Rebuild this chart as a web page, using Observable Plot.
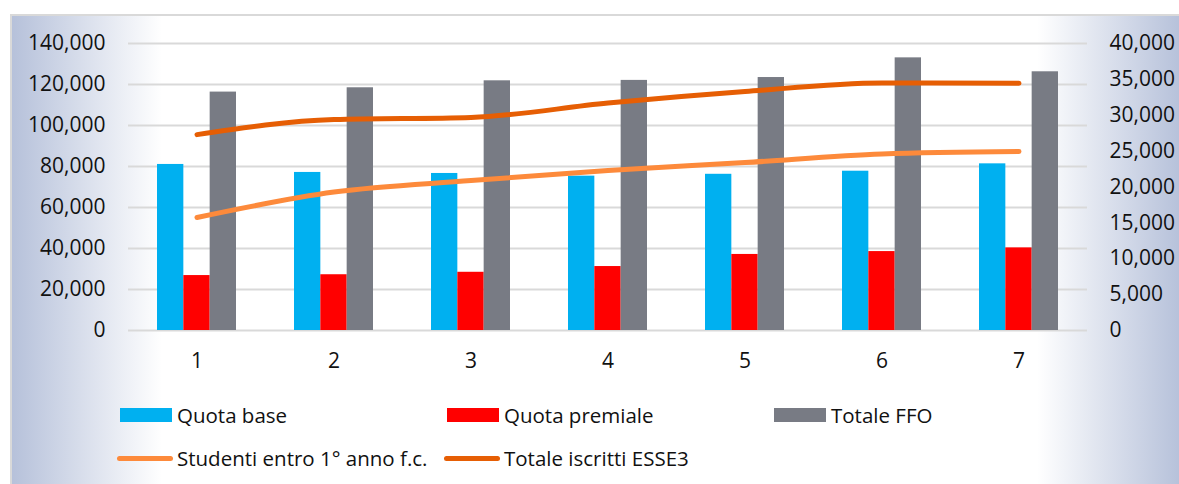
<!DOCTYPE html>
<html>
<head>
<meta charset="utf-8">
<script src="https://cdn.jsdelivr.net/npm/d3@7"></script>
<script src="https://cdn.jsdelivr.net/npm/@observablehq/plot@0.6"></script>
<style>
  html, body { margin: 0; padding: 0; background: #fff; }
  body { width: 1179px; height: 484px; position: relative; overflow: hidden; font-family: "Open Sans", sans-serif; }
  #frame {
    position: absolute; left: 10px; top: 14px; width: 1169px; height: 480px;
    box-sizing: border-box; border-left: 2px solid #d9d9d9; border-top: 2px solid #d9d9d9;
    background: linear-gradient(90deg, #b6c1da 0px, #ffffff 150px, #ffffff 1025px, #b6c1da 1169px);
  }
  #chart { position: absolute; left: 0; top: 0; }
  #legend { position: absolute; left: 120px; top: 400px; font-size: 20.5px; color: #111; }
  .row { display: flex; height: 30px; align-items: center; }
  .row + .row { margin-top: 13px; }
  .item { display: flex; align-items: center; width: 327px; }
  .sw { width: 52px; height: 14px; margin-right: 5px; flex: none; }
  .ln { width: 56px; height: 5px; border-radius: 3px; margin-left: -3px; margin-right: 4px; flex: none; }
</style>
</head>
<body>
<div id="frame"></div>
<div id="chart"></div>
<div id="legend"></div>
<script>
// ---- data ----
const years = [1, 2, 3, 4, 5, 6, 7];
const quotaBase = [81000, 77100, 76600, 75300, 76200, 77700, 81300];
const quotaPremiale = [26800, 27200, 28400, 31200, 37100, 38500, 40300];
const totaleFFO = [116300, 118400, 121800, 122000, 123400, 133000, 126200];
const studenti = [15750, 19300, 20900, 22300, 23400, 24600, 24950];
const totaleIscritti = [27300, 29400, 29700, 31700, 33300, 34500, 34450];
const leftTicks = [0, 20000, 40000, 60000, 80000, 100000, 120000, 140000];
const rightTicks = [0, 5000, 10000, 15000, 20000, 25000, 30000, 35000, 40000];
const seriesNames = ["Quota base", "Quota premiale", "Totale FFO", "Studenti entro 1° anno f.c.", "Totale iscritti ESSE3"];
const colors = ["#00b0f0", "#ff0000", "#787b84", "#fd8a3b", "#e65e04"];

// ---- layout ----
const W = 1179, H = 390, ML = 128, MR = 92, MT = 43, MB = 60;
const band = (W - ML - MR) / years.length;
const barW = band * 0.1922;
const ratio = leftTicks[leftTicks.length - 1] / rightTicks[rightTicks.length - 1];
const fmt = d3.format(",");

const table = years.map((y, i) => ({
  year: y, base: quotaBase[i], premiale: quotaPremiale[i], ffo: totaleFFO[i],
  studenti: studenti[i] * ratio, iscritti: totaleIscritti[i] * ratio
}));

const barOpts = (key, k, color) => ({
  x: "year", y: key, fill: color,
  insetLeft: band / 2 - 1.5 * barW + k * barW,
  insetRight: band / 2 - 1.5 * barW + (2 - k) * barW
});

const chart = Plot.plot({
  width: W, height: H,
  marginLeft: ML, marginRight: MR, marginTop: MT, marginBottom: MB,
  style: { background: "transparent", fontFamily: "Open Sans, sans-serif", fontSize: "21px", color: "#111" },
  x: { type: "band", domain: years, padding: 0 },
  y: { domain: [0, leftTicks[leftTicks.length - 1]] },
  marks: [
    Plot.gridY(leftTicks, { stroke: "#d9d9d9", strokeOpacity: 1, strokeWidth: 2 }),
    Plot.axisY({ anchor: "left", ticks: leftTicks, tickFormat: fmt, tickSize: 0, tickPadding: 23, label: null }),
    Plot.axisY({ anchor: "right", ticks: rightTicks.map(d => d * ratio), tickFormat: d => fmt(Math.round(d / ratio)), tickSize: 0, tickPadding: 22, label: null }),
    Plot.axisX({ anchor: "bottom", tickSize: 0, tickPadding: 23, label: null }),
    Plot.barY(table, barOpts("base", 0, colors[0])),
    Plot.barY(table, barOpts("premiale", 1, colors[1])),
    Plot.barY(table, barOpts("ffo", 2, colors[2])),
    Plot.line(table, { x: "year", y: "studenti", stroke: colors[3], strokeWidth: 5, strokeLinecap: "round", curve: "monotone-x" }),
    Plot.line(table, { x: "year", y: "iscritti", stroke: colors[4], strokeWidth: 5, strokeLinecap: "round", curve: "monotone-x" })
  ]
});
document.getElementById("chart").appendChild(chart);

// ---- legend ----
const legend = document.getElementById("legend");
const rows = [[0, 1, 2], [3, 4]];
rows.forEach(r => {
  const row = document.createElement("div");
  row.className = "row";
  r.forEach(i => {
    const item = document.createElement("div");
    item.className = "item";
    const sw = document.createElement("div");
    sw.className = i < 3 ? "sw" : "ln";
    sw.style.background = colors[i];
    const t = document.createElement("span");
    t.textContent = seriesNames[i];
    item.appendChild(sw); item.appendChild(t);
    row.appendChild(item);
  });
  legend.appendChild(row);
});
</script>
</body>
</html>
